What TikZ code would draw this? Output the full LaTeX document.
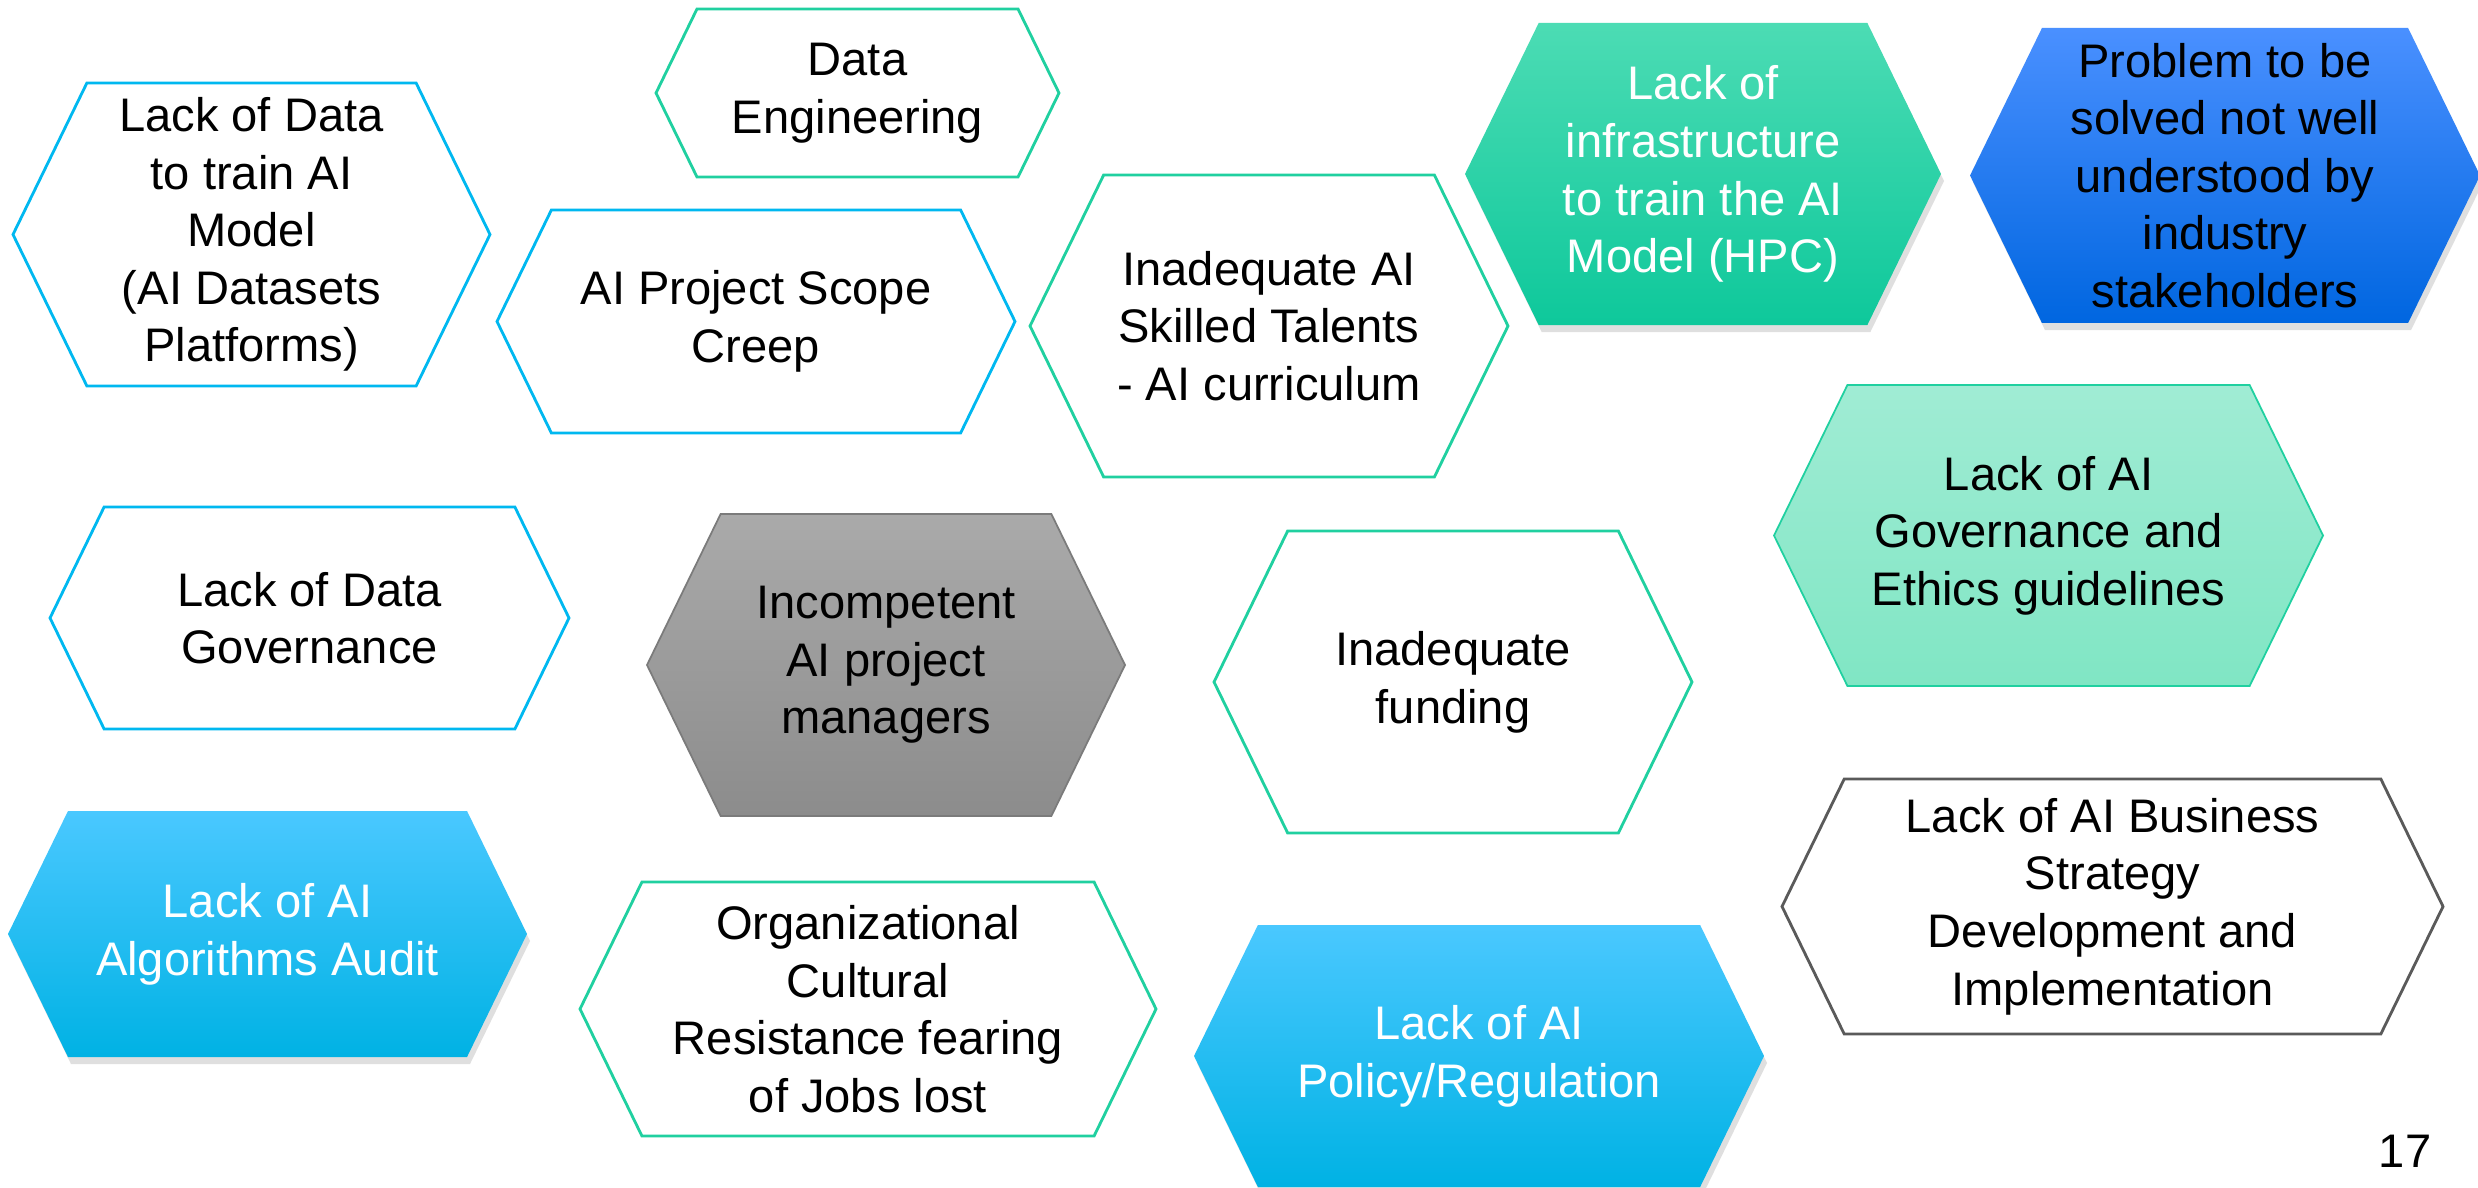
\documentclass[tikz,border=0pt]{standalone}
\usepackage{fontspec}
\setmainfont{Liberation Sans}
\usetikzlibrary{shapes.symbols,shadows}

\definecolor{cyanline}{RGB}{0,184,240}
\definecolor{greenline}{RGB}{32,208,160}
\definecolor{grayline}{RGB}{90,90,90}
\definecolor{infratop}{RGB}{76,220,180}
\definecolor{infrabot}{RGB}{14,200,155}
\definecolor{bluetop}{RGB}{74,144,255}
\definecolor{bluebot}{RGB}{0,102,224}
\definecolor{mintop}{RGB}{160,236,212}
\definecolor{mintbot}{RGB}{128,230,196}
\definecolor{cyantop}{RGB}{74,200,255}
\definecolor{cyanmid}{RGB}{0,195,255}
\definecolor{cyanbot}{RGB}{0,178,228}
\definecolor{graytop}{RGB}{170,170,170}
\definecolor{graybot}{RGB}{140,140,140}

\begin{document}
\begin{tikzpicture}[
        hex/.style={
            signal,
            signal to=east and west,
            signal pointer angle=128,
            align=center,
            inner sep=0pt,
            font=\fontsize{13.4pt}{16.4pt}\selectfont
        },
        hexline/.style={hex, draw=#1, line width=0.8pt, fill=white, text=black},
        hexfill/.style={hex, draw=none,
            drop shadow={opacity=0.25, shadow xshift=0.03cm, shadow yshift=-0.07cm}},
        infrafill/.style={hexfill, top color=infratop, bottom color=infrabot, text=white},
        bluefill/.style={hexfill, top color=bluetop, bottom color=bluebot, text=black},
        mintfill/.style={hex, draw=greenline, line width=0.5pt, top color=mintop, bottom color=mintbot, text=black},
        cyanfill/.style={hexfill, top color=cyantop, middle color=cyanmid, bottom color=cyanbot, text=white},
        grayfill/.style={hex, draw=grayline!80, line width=0.5pt, top color=graytop, bottom color=graybot, text=black}
    ]

    \path[use as bounding box, fill=white] (0,0) rectangle (24.78,-11.87);

    % Nodes
    \node (lackdata) [hexline=cyanline, minimum width=4.77cm, minimum height=3.03cm] at (2.515,-2.345)
        {Lack of Data\\to train AI\\Model\\(AI Datasets\\Platforms)};

    \node (dataeng) [hexline=greenline, minimum width=4.03cm, minimum height=1.68cm] at (8.575,-0.93)
        {Data\\Engineering};

    \node (scope) [hexline=cyanline, minimum width=5.18cm, minimum height=2.23cm] at (7.56,-3.215)
        {AI Project Scope\\Creep};

    \node (skills) [hexline=greenline, minimum width=4.78cm, minimum height=3.02cm] at (12.69,-3.26)
        {Inadequate AI\\Skilled Talents\\- AI curriculum};

    \node (infra) [infrafill, minimum width=4.76cm, minimum height=3.02cm] at (17.03,-1.74)
        {Lack of\\infrastructure\\to train the AI\\Model (HPC)};

    \node (problem) [bluefill, minimum width=5.10cm, minimum height=2.95cm] at (22.25,-1.755)
        {Problem to be\\solved not well\\understood by\\industry\\stakeholders};

    \node (ethics) [mintfill, minimum width=5.49cm, minimum height=3.01cm] at (20.485,-5.355)
        {Lack of AI\\Governance and\\Ethics guidelines};

    \node (datagov) [hexline=cyanline, minimum width=5.19cm, minimum height=2.22cm] at (3.095,-6.18)
        {Lack of Data\\Governance};

    \node (managers) [grayfill, minimum width=4.78cm, minimum height=3.02cm] at (8.86,-6.65)
        {Incompetent\\AI project\\managers};

    \node (funding) [hexline=greenline, minimum width=4.78cm, minimum height=3.02cm] at (14.53,-6.82)
        {Inadequate\\funding};

    \node (audit) [cyanfill, minimum width=5.19cm, minimum height=2.46cm] at (2.675,-9.34)
        {Lack of AI\\Algorithms Audit};

    \node (culture) [hexline=greenline, minimum width=5.76cm, minimum height=2.54cm] at (8.68,-10.09)
        {Organizational\\Cultural\\Resistance fearing\\of Jobs lost};

    \node (policy) [cyanfill, minimum width=5.70cm, minimum height=2.62cm] at (14.79,-10.56)
        {Lack of AI\\Policy/Regulation};

    \node (strategy) [hexline=grayline, minimum width=6.61cm, minimum height=2.55cm] at (21.125,-9.065)
        {Lack of AI Business\\Strategy\\Development and\\Implementation};

    \node (pagenum) [font=\fontsize{13.4pt}{16.4pt}\selectfont, anchor=base east, inner sep=0pt] at (24.32,-11.67) {17};

    \end{tikzpicture}
\end{document}
